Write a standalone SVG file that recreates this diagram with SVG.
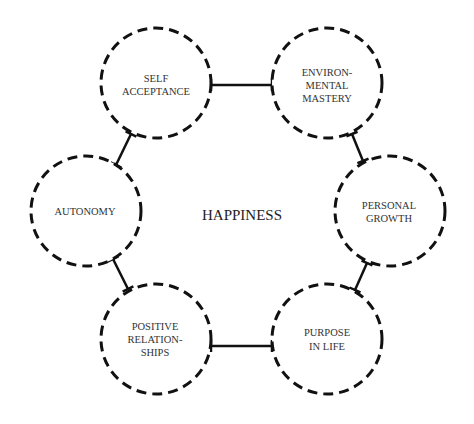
<svg xmlns="http://www.w3.org/2000/svg" width="474" height="424" viewBox="0 0 474 424">
<style>
.node circle{fill:#fff;stroke:#111;stroke-width:3;stroke-dasharray:10 6}
.lbl{font-family:"Liberation Serif","DejaVu Serif",serif;font-size:10.5px;fill:#333;text-anchor:middle}
.title{font-family:"Liberation Serif","DejaVu Serif",serif;font-size:15px;fill:#222;text-anchor:middle}
#connectors line{stroke:#111;stroke-width:2.5;marker-start:url(#tick);marker-end:url(#tick)}
</style>
<defs>
<marker id="tick" markerWidth="4" markerHeight="14" refX="2" refY="7" orient="auto" markerUnits="userSpaceOnUse">
<line x1="2" y1="1" x2="2" y2="13" stroke="#111" stroke-width="2.5"/>
</marker>
</defs>
<rect width="474" height="424" fill="#fff"/>
<g id="connectors">
<line x1="211" y1="85" x2="272" y2="85"/>
<line x1="131" y1="134" x2="116" y2="165"/>
<line x1="113" y1="259" x2="128" y2="289"/>
<line x1="211" y1="346" x2="272" y2="346"/>
<line x1="367" y1="263" x2="355" y2="290"/>
<line x1="352" y1="134" x2="363" y2="161"/>
</g>
<g id="self-acceptance" class="node">
<circle cx="156" cy="83" r="55"/>
<text class="lbl" x="156" y="82">SELF</text>
<text class="lbl" x="156" y="95">ACCEPTANCE</text>
</g>
<g id="environmental-mastery" class="node">
<circle cx="327" cy="83" r="55"/>
<text class="lbl" x="327" y="76">ENVIRON-</text>
<text class="lbl" x="327" y="89">MENTAL</text>
<text class="lbl" x="327" y="102">MASTERY</text>
</g>
<g id="autonomy" class="node">
<circle cx="86" cy="211" r="55"/>
<text class="lbl" x="85" y="215">AUTONOMY</text>
</g>
<g id="personal-growth" class="node">
<circle cx="390" cy="211" r="55"/>
<text class="lbl" x="389" y="209">PERSONAL</text>
<text class="lbl" x="389" y="222">GROWTH</text>
</g>
<g id="positive-relationships" class="node">
<circle cx="156" cy="339" r="55"/>
<text class="lbl" x="155" y="330">POSITIVE</text>
<text class="lbl" x="155" y="343">RELATION-</text>
<text class="lbl" x="155" y="356">SHIPS</text>
</g>
<g id="purpose-in-life" class="node">
<circle cx="327" cy="339" r="55"/>
<text class="lbl" x="327" y="336">PURPOSE</text>
<text class="lbl" x="327" y="350">IN LIFE</text>
</g>
<g id="happiness">
<text class="title" x="242" y="220">HAPPINESS</text>
</g>
</svg>
